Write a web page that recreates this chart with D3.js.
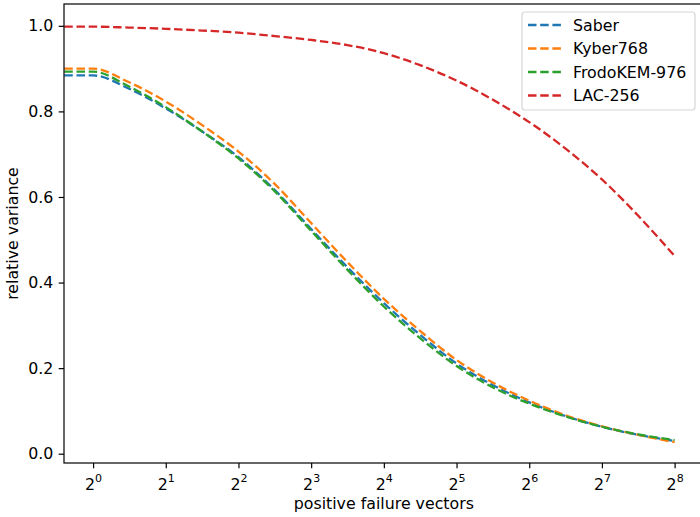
<!DOCTYPE html>
<html>
<head>
<meta charset="utf-8">
<script src="https://cdn.jsdelivr.net/npm/d3@7"></script>
<style>
  body { margin: 0; background: #fff; }
  text { font-family: "DejaVu Sans", sans-serif; fill: #000; }
</style>
</head>
<body>
<div id="chart"></div>
<script>
// failure vectors (x), read at half-powers of two; first value is the flat lead-in at the left edge
const vectors = [0.76, 1, 1.41, 2, 2.83, 4, 5.66, 8, 11.3, 16, 22.6, 32, 45.3, 64, 90.5, 128, 181, 256];

const saber = [0.884, 0.884, 0.853, 0.807, 0.753, 0.693, 0.616, 0.525, 0.436, 0.352, 0.278, 0.211, 0.160, 0.120, 0.088, 0.063, 0.044, 0.030];
const kyber = [0.900, 0.900, 0.868, 0.823, 0.768, 0.706, 0.630, 0.539, 0.448, 0.362, 0.287, 0.219, 0.166, 0.124, 0.090, 0.064, 0.044, 0.027];
const frodo = [0.893, 0.893, 0.858, 0.810, 0.753, 0.690, 0.613, 0.521, 0.430, 0.344, 0.270, 0.205, 0.155, 0.117, 0.087, 0.063, 0.045, 0.032];
const lac   = [0.998, 0.998, 0.996, 0.993, 0.989, 0.984, 0.976, 0.967, 0.955, 0.936, 0.908, 0.872, 0.827, 0.775, 0.713, 0.641, 0.556, 0.462];

const seriesNames = ["Saber", "Kyber768", "FrodoKEM-976", "LAC-256"];
const seriesValues = [saber, kyber, frodo, lac];
const seriesColors = ["#1f77b4", "#ff7f0e", "#2ca02c", "#d62728"];

const xTicks = [1, 2, 4, 8, 16, 32, 64, 128, 256];
const yTicks = [0, 0.2, 0.4, 0.6, 0.8, 1.0];

const width = 700;
const height = 517;
const margin = { left: 64, top: 4, bottom: 463, right: 703.7 };
const fontSize = 15.8;

const svg = d3.select("#chart").append("svg")
  .attr("width", width)
  .attr("height", height);

const x = d3.scaleLog().base(2)
  .domain([Math.pow(2, -0.4), Math.pow(2, 8.4)])
  .range([margin.left, margin.right]);

const y = d3.scaleLinear()
  .domain([-0.0217, 1.051])
  .range([margin.bottom, margin.top]);

svg.append("clipPath").attr("id", "plot-clip")
  .append("rect")
  .attr("x", margin.left).attr("y", margin.top)
  .attr("width", margin.right - margin.left).attr("height", margin.bottom - margin.top);

// lines
const line = d3.line()
  .x((d) => x(d[0]))
  .y((d) => y(d[1]))
  .curve(d3.curveMonotoneX);

seriesValues.forEach(function (vals, i) {
  svg.append("path")
    .datum(vectors.map((v, j) => [v, vals[j]]))
    .attr("clip-path", "url(#plot-clip)")
    .attr("fill", "none")
    .attr("stroke", seriesColors[i])
    .attr("stroke-width", 2.3)
    .attr("stroke-dasharray", "8.5,3.7")
    .attr("d", line);
});

// x axis
const xAxis = svg.append("g")
  .attr("transform", "translate(0," + margin.bottom + ")")
  .call(d3.axisBottom(x).tickValues(xTicks).tickSize(5.3).tickPadding(5.3).tickFormat(() => ""));

xAxis.selectAll(".tick text").each(function (d) {
  const t = d3.select(this);
  t.attr("font-size", fontSize + "px").attr("font-family", "DejaVu Sans").attr("dy", "1.05em");
  t.append("tspan").text("2");
  t.append("tspan")
    .attr("font-size", (fontSize * 0.7) + "px")
    .attr("dy", "-0.75em")
    .text(Math.round(Math.log2(d)));
});

// y axis
const yAxis = svg.append("g")
  .attr("transform", "translate(" + margin.left + ",0)")
  .call(d3.axisLeft(y).tickValues(yTicks).tickSize(5.3).tickPadding(5.3).tickFormat(d3.format(".1f")));

yAxis.selectAll(".tick text").attr("font-size", fontSize + "px").attr("font-family", "DejaVu Sans");

[xAxis, yAxis].forEach(function (ax) {
  ax.select(".domain").remove();
  ax.selectAll(".tick line").attr("stroke", "#000").attr("stroke-width", 1.2);
});

// spines
svg.append("rect")
  .attr("x", margin.left).attr("y", margin.top)
  .attr("width", margin.right - margin.left).attr("height", margin.bottom - margin.top)
  .attr("fill", "none")
  .attr("stroke", "#000")
  .attr("stroke-width", 1.2);

// axis labels
svg.append("text")
  .attr("x", (margin.left + margin.right) / 2)
  .attr("y", 509)
  .attr("text-anchor", "middle")
  .attr("font-size", fontSize + "px")
  .text("positive failure vectors");

svg.append("text")
  .attr("transform", "translate(18," + (margin.top + margin.bottom) / 2 + ") rotate(-90)")
  .attr("text-anchor", "middle")
  .attr("font-size", fontSize + "px")
  .text("relative variance");

// legend
const legend = svg.append("g");
legend.append("rect")
  .attr("x", 522).attr("y", 12)
  .attr("width", 173).attr("height", 98)
  .attr("rx", 3)
  .attr("fill", "rgba(255,255,255,0.8)")
  .attr("stroke", "#d6d6d6")
  .attr("stroke-width", 1.2);

seriesNames.forEach(function (name, i) {
  const ry = 25 + i * 23.5;
  legend.append("line")
    .attr("x1", 528).attr("x2", 561)
    .attr("y1", ry).attr("y2", ry)
    .attr("stroke", seriesColors[i])
    .attr("stroke-width", 2.3)
    .attr("stroke-dasharray", "8.5,3.7");
  legend.append("text")
    .attr("x", 573).attr("y", ry)
    .attr("dy", "0.36em")
    .attr("font-size", fontSize + "px")
    .text(name);
});
</script>
</body>
</html>
